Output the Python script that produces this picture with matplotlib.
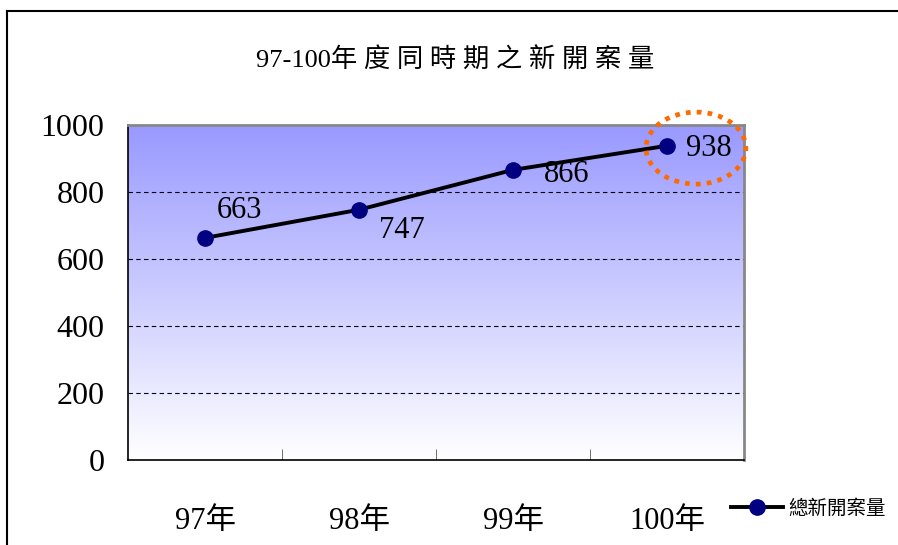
import numpy as np
import matplotlib
matplotlib.use('Agg')
import matplotlib.pyplot as plt
from matplotlib.patches import Ellipse
from matplotlib.lines import Line2D
from matplotlib.colors import LinearSegmentedColormap

plt.rcParams['font.family'] = ['Liberation Serif', 'Noto Sans CJK TC', 'DejaVu Sans']

years = ['97年', '98年', '99年', '100年']
new_cases = [663, 747, 866, 938]
label_offsets = [(35, 27), (43, -21), (54, -5), (42, -3)]
y_ticks = [0, 200, 400, 600, 800, 1000]
title = '97-100年 度 同 時 期 之 新 開 案 量'
series_name = '總新開案量'

W, H = 898, 545
fig = plt.figure(figsize=(W / 100, H / 100), dpi=100)
fig.patch.set_facecolor('white')
ax = fig.add_axes([128 / W, 1 - 460 / H, (744 - 128) / W, (460 - 125) / H])

x = np.arange(len(years))
ax.set_xlim(-0.5, len(years) - 0.5)
ax.set_ylim(0, 1000)

# gradient background
cmap = LinearSegmentedColormap.from_list('bg', ['#ffffff', '#9999ff'])
grad = np.linspace(0, 1, 256).reshape(-1, 1)
ax.imshow(grad, cmap=cmap, aspect='auto', origin='lower',
          extent=[-0.5, len(years) - 0.5, 0, 1000], zorder=0)

for t in y_ticks[1:-1]:
    ax.axhline(t, color='black', lw=0.8, ls=(0, (4, 3)), zorder=1)

ax.plot(x, new_cases, color='black', lw=2.8, marker='o', markersize=11,
        markerfacecolor='#000080', markeredgecolor='#000080', zorder=3,
        label=series_name)

for xi, v, off in zip(x, new_cases, label_offsets):
    ax.annotate(str(v), (xi, v), xytext=off, textcoords='offset pixels',
                ha='center', va='center', fontsize=22, zorder=4)

# highlight ring around last value
ring = Ellipse((0.922, 0.931), 0.162, 0.215, transform=ax.transAxes,
               fill=False, edgecolor='#ff6a00', lw=3.4,
               linestyle=(0, (1, 1.3)), clip_on=False, zorder=5)
ax.add_patch(ring)

ax.set_yticks(y_ticks)
ax.set_yticklabels([str(t) for t in y_ticks], fontsize=23)
ax.tick_params(axis='y', length=0, pad=17)
ax.set_xticks(x)
ax.set_xticklabels(years, fontsize=22)
ax.tick_params(axis='x', which='major', length=0, pad=34)
ax.set_xticks([0.5, 1.5, 2.5], minor=True)
ax.tick_params(axis='x', which='minor', direction='in', length=8, color='#555555')

for s in ['left', 'bottom']:
    ax.spines[s].set_color('black')
    ax.spines[s].set_linewidth(1.2)
for s in ['top', 'right']:
    ax.spines[s].set_color('#888888')
    ax.spines[s].set_linewidth(2)

fig.text(455 / W, 1 - 60 / H, title, ha='center', va='center', fontsize=19)

fig.legend(loc='center left', bbox_to_anchor=(713 / W, 1 - 508 / H),
           frameon=False, handlelength=2.7, handletextpad=0.25,
           prop={'family': ['Noto Sans CJK TC'], 'size': 14})

# outer frame
fig.add_artist(Line2D([7 / W, 7 / W], [0, 1 - 11 / H], color='black', lw=1.5,
                      transform=fig.transFigure))
fig.add_artist(Line2D([7 / W, 1], [1 - 11 / H, 1 - 11 / H], color='black', lw=1.5,
                      transform=fig.transFigure))

fig.savefig('out.png', dpi=100)
